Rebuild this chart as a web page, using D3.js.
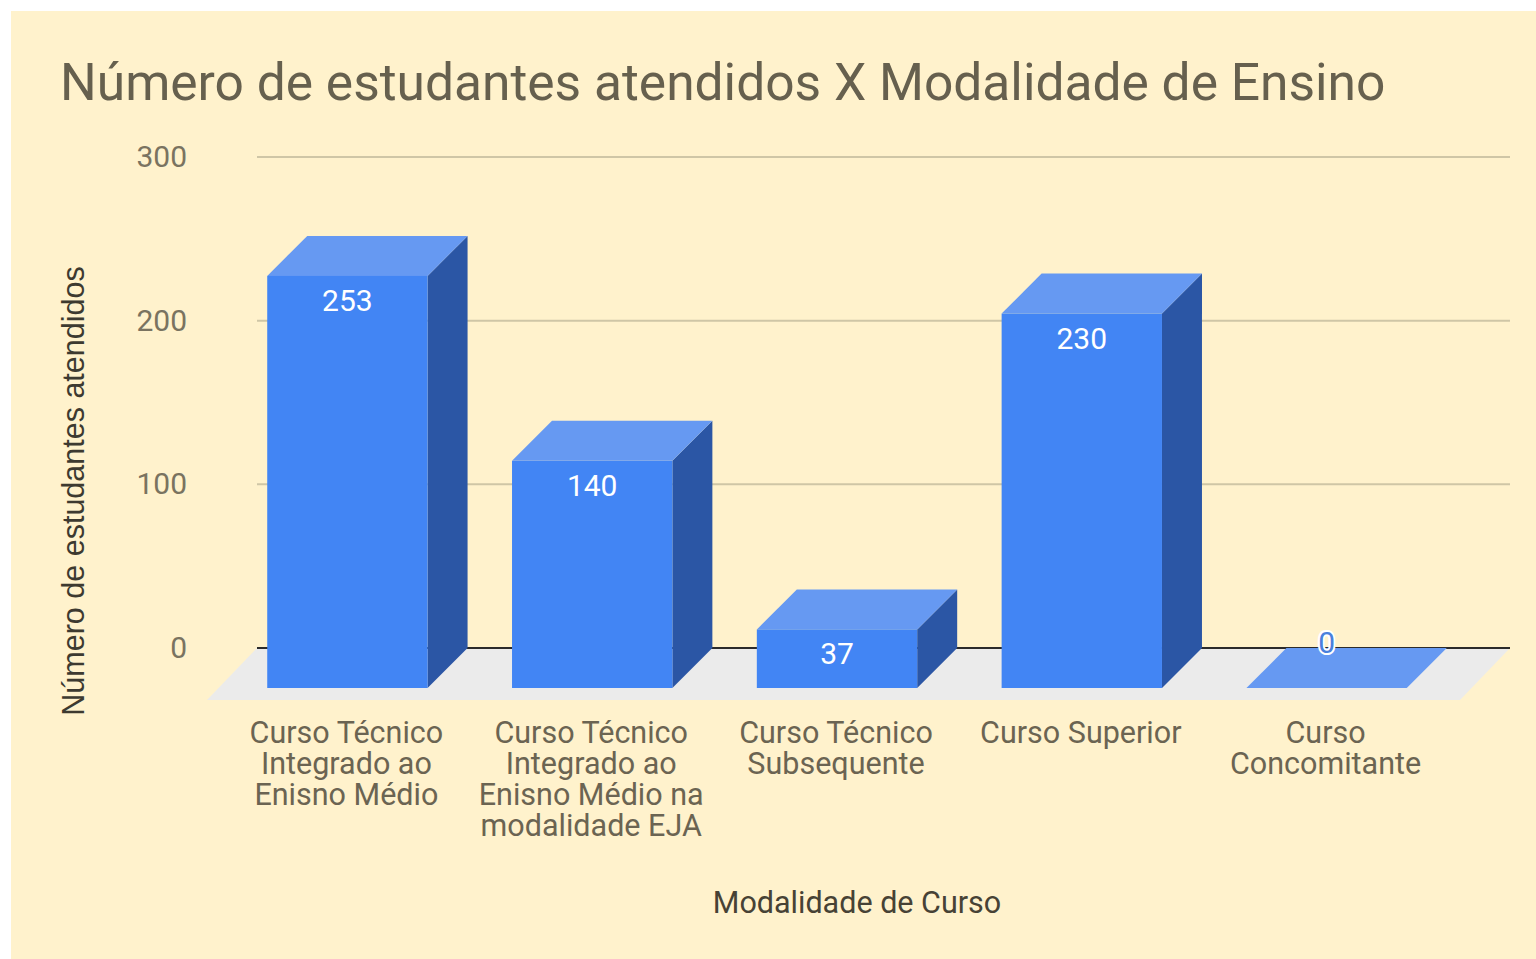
<!DOCTYPE html>
<html>
<head>
<meta charset="utf-8">
<script src="https://cdn.jsdelivr.net/npm/d3@7"></script>
<style>
  html, body { margin: 0; padding: 0; background: #fff; }
  svg { display: block; }
</style>
</head>
<body>
<div id="chart"></div>
<script>
var categories = [
  ["Curso Técnico", "Integrado ao", "Enisno Médio"],
  ["Curso Técnico", "Integrado ao", "Enisno Médio na", "modalidade EJA"],
  ["Curso Técnico", "Subsequente"],
  ["Curso Superior"],
  ["Curso", "Concomitante"]
];
var values = [253, 140, 37, 230, 0];
var yTicks = [0, 100, 200, 300];

var width = 1536, height = 959;
var depthX = 40, depthY = 40;     // bar depth (back plane -> front plane)
var floorX = 50, floorY = 52;     // floor depth

var svg = d3.select("#chart").append("svg")
  .attr("width", width)
  .attr("height", height);

// background
svg.append("rect").attr("x", 11).attr("y", 11)
  .attr("width", width - 11).attr("height", height - 11)
  .attr("fill", "#fff2cc");

// y scale on the back plane
var y = d3.scaleLinear().domain([0, 300]).range([648, 157]);
// x scale on the front plane
var x = d3.scaleBand()
  .domain(d3.range(values.length))
  .range([225, 1449])
  .paddingInner(0.345)
  .paddingOuter(0.1725);

var backLeft = 257, backRight = 1510;

// floor
svg.append("path")
  .attr("d", "M" + backLeft + "," + y(0) +
             "L" + backRight + "," + y(0) +
             "L" + (backRight - floorX) + "," + (y(0) + floorY) +
             "L" + (backLeft - floorX) + "," + (y(0) + floorY) + "Z")
  .attr("fill", "#ebebeb");

// gridlines
svg.append("g").selectAll("line")
  .data(yTicks.filter(function(d){ return d !== 0; }))
  .enter().append("line")
  .attr("x1", backLeft).attr("x2", backRight)
  .attr("y1", function(d){ return y(d); })
  .attr("y2", function(d){ return y(d); })
  .attr("stroke", "#cfc6a6")
  .attr("stroke-width", 2);

// zero line
svg.append("line")
  .attr("x1", backLeft).attr("x2", backRight)
  .attr("y1", y(0)).attr("y2", y(0))
  .attr("stroke", "#2b2b2b").attr("stroke-width", 2);

// tick labels
svg.append("g").selectAll("text")
  .data(yTicks)
  .enter().append("text")
  .attr("x", 187)
  .attr("y", function(d){ return y(d) + 10; })
  .attr("text-anchor", "end")
  .attr("font-family", "Roboto")
  .attr("font-size", 30)
  .attr("fill", "#7a7360")
  .text(function(d){ return d; });

// bars
var bars = svg.append("g").selectAll("g")
  .data(values)
  .enter().append("g");

bars.each(function(v, i){
  var g = d3.select(this);
  var x0 = x(i), x1 = x(i) + x.bandwidth();
  var bottom = y(0) + depthY;
  var top = v > 0 ? y(v) + depthY + 2 : bottom;
  // side
  if (v > 0) {
    g.append("path")
      .attr("d", "M" + x1 + "," + top + "L" + (x1 + depthX) + "," + (top - depthY) +
                 "L" + (x1 + depthX) + "," + (bottom - depthY) + "L" + x1 + "," + bottom + "Z")
      .attr("fill", "#2b56a5");
  }
  // top
  g.append("path")
    .attr("d", "M" + x0 + "," + top + "L" + (x0 + depthX) + "," + (top - depthY) +
               "L" + (x1 + depthX) + "," + (top - depthY) + "L" + x1 + "," + top + "Z")
    .attr("fill", "#6699f2");
  // front
  if (v > 0) {
    g.append("rect")
      .attr("x", x0).attr("y", top)
      .attr("width", x.bandwidth()).attr("height", bottom - top)
      .attr("fill", "#4285f4");
  }
});

// value labels
bars.append("text")
  .attr("x", function(d, i){ return x(i) + x.bandwidth() / 2; })
  .attr("y", function(d){ return d > 0 ? y(d) + depthY + 37 : y(0) + 5; })
  .attr("text-anchor", "middle")
  .attr("font-family", "Roboto")
  .attr("font-size", 30)
  .attr("fill", function(d){ return d > 0 ? "#fff" : "#4a80dc"; })
  .attr("stroke", function(d){ return d > 0 ? "none" : "#fff"; })
  .attr("stroke-width", 4)
  .attr("paint-order", "stroke")
  .text(function(d){ return d; });

// category labels
var cat = svg.append("g").selectAll("text")
  .data(categories)
  .enter().append("text")
  .attr("text-anchor", "middle")
  .attr("font-family", "Roboto")
  .attr("font-size", 30.5)
  .attr("fill", "#6b6452");
cat.each(function(lines, i){
  var t = d3.select(this);
  lines.forEach(function(l, j){
    t.append("tspan")
      .attr("x", x(i) + x.bandwidth() / 2 - 1)
      .attr("y", 743 + j * 31)
      .text(l);
  });
});

// title
svg.append("text")
  .attr("x", 60).attr("y", 100)
  .attr("font-family", "Roboto")
  .attr("font-size", 51.5)
  .attr("fill", "#66604e")
  .text("Número de estudantes atendidos X Modalidade de Ensino");

// x axis title
svg.append("text")
  .attr("x", 857).attr("y", 913)
  .attr("text-anchor", "middle")
  .attr("font-family", "Roboto")
  .attr("font-size", 30.5)
  .attr("fill", "#474235")
  .text("Modalidade de Curso");

// y axis title
svg.append("text")
  .attr("transform", "translate(84,491) rotate(-90)")
  .attr("text-anchor", "middle")
  .attr("font-family", "Liberation Sans, Arial")
  .attr("font-size", 30.5)
  .attr("fill", "#3d3a30")
  .text("Número de estudantes atendidos");
</script>
</body>
</html>
